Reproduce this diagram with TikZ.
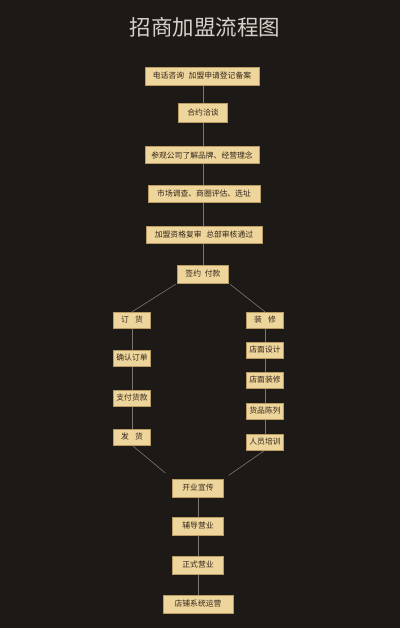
\documentclass[tikz,border=0pt]{standalone}
\usepackage{fontspec}
\newfontfamily\cjk{Noto Sans CJK SC}
\usepackage{xcolor}
\usetikzlibrary{backgrounds}
\definecolor{bgdark}{HTML}{1D1917}
\definecolor{boxfill}{HTML}{EDD59C}
\definecolor{boxline}{HTML}{B89A62}
\definecolor{boxtext}{HTML}{35261A}
\definecolor{linkgray}{HTML}{7E766A}
\definecolor{titlegray}{HTML}{D6D2CA}

\begin{document}
\begin{tikzpicture} [x=1pt,y=-1pt,
  stepbox/.style={draw=boxline, line width=0.4pt, fill=boxfill, text=boxtext,
    inner sep=0pt, minimum height=17pt, font=\cjk\fontsize{7.8}{9}\selectfont},
  link/.style={draw=linkgray, line width=0.6pt}]

\useasboundingbox (0,0) rectangle (400,628);

% title
\node [text=titlegray, font=\cjk\fontsize{21.5}{24}\selectfont] (title) at (205,27) {招商加盟流程图};

% main column
\node [stepbox, minimum width=114pt, minimum height=18pt] (call) at (202,76) {电话咨询\hspace{0.6em}加盟申请登记备案};
\node [stepbox, minimum width=49pt, minimum height=19pt] (talk) at (203,113) {合约洽谈};
\node [stepbox, minimum width=114pt] (visit) at (202,155) {参观公司了解品牌、经营理念};
\node [stepbox, minimum width=112pt] (survey) at (204,194) {市场调查、商圈评估、选址};
\node [stepbox, minimum width=116pt] (review) at (204,235) {加盟资格复审\hspace{0.6em}总部审核通过};
\node [stepbox, minimum width=51pt, minimum height=18pt] (sign) at (203,274) {签约\hspace{0.5em}付款};

% left column
\node [stepbox, minimum width=37pt, minimum height=16pt] (order) at (132,320) {订\hspace{0.8em}货};
\node [stepbox, minimum width=37pt, minimum height=16pt] (confirm) at (132,358) {确认订单};
\node [stepbox, minimum width=37pt, minimum height=16pt] (pay) at (132,398) {支付货款};
\node [stepbox, minimum width=37pt, minimum height=16pt] (ship) at (132,437) {发\hspace{0.8em}货};

% right column
\node [stepbox, minimum width=37pt, minimum height=16pt] (decor) at (265,320) {装\hspace{0.8em}修};
\node [stepbox, minimum width=37pt, minimum height=16pt] (design) at (265,350) {店面设计};
\node [stepbox, minimum width=37pt, minimum height=16pt] (fitout) at (265,380) {店面装修};
\node [stepbox, minimum width=37pt, minimum height=16pt] (display) at (265,411) {货品陈列};
\node [stepbox, minimum width=37pt, minimum height=16pt] (staff) at (265,442) {人员培训};

% bottom column
\node [stepbox, minimum width=51pt, minimum height=18pt] (open) at (198,488) {开业宣传};
\node [stepbox, minimum width=51pt, minimum height=18pt] (guide) at (198,526) {辅导营业};
\node [stepbox, minimum width=51pt, minimum height=18pt] (formal) at (198,565) {正式营业};
\node [stepbox, minimum width=70pt, minimum height=18pt] (run) at (198,604) {店铺系统运营};

\begin{scope}[on background layer]
\fill [bgdark] (0,0) rectangle (400,628);

\draw [link] (call.south -| 203,0) -- (sign.north);
\draw [link] (order) -- (ship);
\draw [link] (decor) -- (staff);
\draw [link] (open) -- (run);

\draw [link, shorten <=2pt] (sign.south west) -- (order.north);
\draw [link, shorten <=2pt] (sign.south east) -- (decor.north);
\draw [link, shorten >=9pt] (ship.south) -- (open.north west);
\draw [link, shorten >=6pt] (staff.south) -- (open.north east);
\end{scope}

\end{tikzpicture}
\end{document}
